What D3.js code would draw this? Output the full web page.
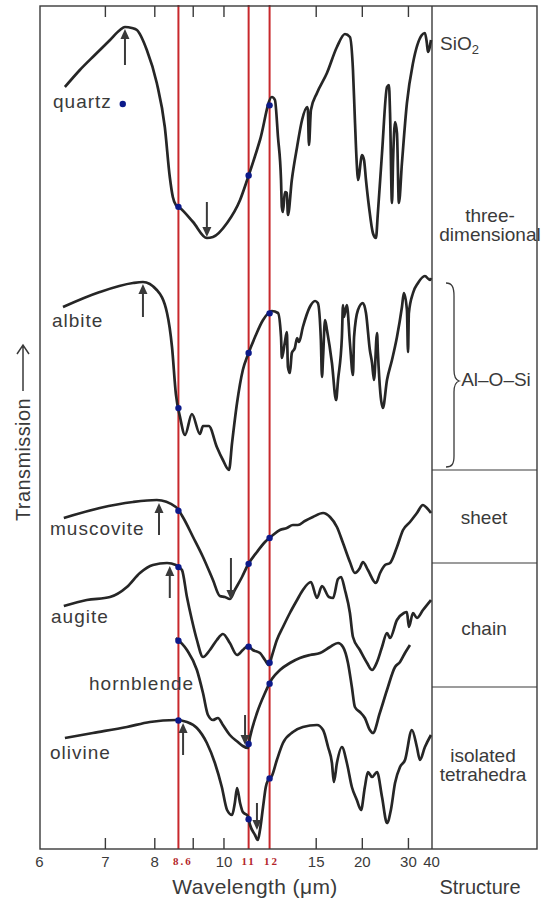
<!DOCTYPE html>
<html>
<head>
<meta charset="utf-8">
<script src="https://cdn.jsdelivr.net/npm/d3@7"></script>
<style>
body { margin: 0; background: #fff; }
svg { display: block; }
text { font-family: "Liberation Sans", Arial, sans-serif; fill: #3a3a3a; }
</style>
</head>
<body>
<script>
'use strict';

// IR spectra: [wavenumber (cm-1), transmission (stacked, arbitrary units)]
const quartz = [[1573,76.2],[1519,77.9],[1465,79.4],[1410,80.9],[1374,81.9],[1356,82.2],[1331,82.1],[1313,81.9],
  [1277,79.9],[1241,76.6],[1212,72.2],[1194,67.2],[1183,65.2],[1172,64.4],[1157,64.1],[1110,62.7],[1060,61.1],
  [1038,61.2],[987,62.6],[940,64.9],[912,67.1],[868,70.9],[825,75.2],[814,74.9],[803,71.2],[792,66.9],[789,64.2],
  [785,63.7],[778,65.7],[771,65.6],[767,63.4],[753,66.9],[734,70.2],[716,72.9],[698,74.2],[695,73.9],[691,70.4],
  [684,73.9],[662,75.6],[626,77.6],[590,80.2],[561,81.5],[543,81.2],[532,77.9],[525,72.9],[518,68.4],[514,66.9],
  [499,69.4],[492,68.9],[485,66.9],[474,64.2],[460,61.6],[449,61.1],[442,63.6],[427,69.6],[409,76.2],[402,76.4],
  [398,73.6],[391,64.6],[387,68.9],[380,72.7],[373,71.6],[366,64.6],[355,68.6],[337,74.6],[315,78.6],[283,81.4],
  [272,81.6],[265,80.6],[261,79.7],[250,80.9]];

const albite = [[1580,54.2],[1447,55.7],[1327,56.6],[1291,56.7],[1241,55.9],[1204,53.6],[1186,50.2],[1172,45.5],
  [1157,43.2],[1139,41.4],[1114,43.5],[1085,41.5],[1074,42.3],[1053,42.3],[1024,40.2],[1002,38.9],[980,37.9],
  [969,40.6],[951,44.6],[930,47.9],[912,49.4],[886,51.2],[857,52.9],[825,53.8],[803,53.6],[792,51.2],[789,49.1],
  [778,50.7],[771,51.7],[767,48.2],[760,47.6],[753,49.6],[742,50.1],[734,51.1],[727,50.7],[713,52.2],[688,54.2],
  [669,54.8],[659,54.6],[648,50.9],[644,47.2],[640,49.2],[633,52.9],[626,51.9],[608,48.6],[593,44.9],[586,46.9],
  [572,51.2],[568,54.4],[565,53.2],[554,54.4],[543,50.6],[532,47.4],[528,51.2],[514,53.9],[496,54.6],[485,53.6],
  [471,49.9],[463,48.6],[456,46.9],[445,51.6],[442,49.7],[424,44.1],[409,46.9],[391,48.9],[373,51.2],[355,54.2],
  [348,55.6],[337,53.9],[333,49.7],[330,53.6],[315,55.6],[297,56.6],[272,57.3],[254,56.9],[250,57.1]];

const muscovite = [[1577,33.1],[1447,34.1],[1327,34.7],[1241,34.9],[1172,34.2],[1147,33.2],[1110,31.2],[1074,29.2],
  [1038,26.9],[1013,25.3],[995,25.2],[977,25.0],[959,25.9],[933,27.2],[912,28.4],[879,29.7],[850,30.7],[825,31.3],
  [796,31.9],[771,32.1],[749,32.4],[731,32.4],[706,32.8],[677,33.2],[640,33.6],[615,33.2],[590,32.2],[568,30.6],
  [543,28.7],[525,27.6],[507,28.1],[496,28.7],[478,27.9],[449,26.6],[434,27.6],[416,28.4],[398,28.6],[373,30.2],
  [351,31.9],[326,32.7],[301,33.6],[279,34.4],[265,34.1],[250,33.6]];

const augite = [[1577,24.3],[1494,24.9],[1410,25.2],[1349,26.2],[1302,27.6],[1255,28.4],[1204,28.6],[1172,28.4],
  [1150,27.9],[1132,25.2],[1114,22.9],[1096,20.9],[1074,19.2],[1049,19.9],[1024,20.9],[1002,21.5],[977,20.6],
  [951,19.4],[930,19.9],[912,20.3],[894,19.9],[868,19.6],[850,18.9],[836,18.4],[825,19.3],[807,20.9],[785,22.2],
  [760,23.6],[734,24.9],[713,25.9],[684,26.7],[662,25.1],[644,26.3],[619,25.2],[604,25.1],[586,27.0],[575,27.2],
  [561,25.9],[543,23.6],[532,21.2],[507,19.9],[481,18.6],[463,17.9],[445,18.7],[427,20.2],[409,21.6],[398,21.1],
  [373,22.9],[348,23.6],[337,23.7],[330,22.2],[315,23.6],[301,23.1],[279,23.9],[250,24.9]];

const hornblende = [[1172,21.1],[1132,19.9],[1096,17.9],[1074,15.6],[1056,13.4],[1038,12.9],[1020,13.1],[1002,12.4],
  [977,11.4],[948,10.7],[930,10.3],[912,10.1],[904,11.2],[879,13.6],[850,15.6],[825,17.0],[796,17.9],[760,18.6],
  [724,19.1],[687,19.4],[651,19.6],[615,20.2],[586,20.6],[568,20.2],[550,18.6],[536,16.2],[525,14.2],[507,13.7],
  [489,13.1],[471,11.9],[460,11.6],[435,13.6],[409,15.9],[380,18.2],[362,18.7],[344,19.6],[326,20.4]];

const olivine = [[1573,11.1],[1472,11.6],[1349,12.2],[1266,12.7],[1172,12.9],[1132,12.7],[1096,12.1],[1060,10.6],
  [1031,8.6],[1006,6.2],[987,3.9],[969,3.4],[959,4.6],[951,6.1],[940,4.6],[930,3.7],[912,3.3],[904,2.4],[886,1.4],
  [876,0.9],[868,1.9],[857,4.2],[847,6.2],[839,6.9],[825,7.3],[807,8.9],[785,10.6],[749,11.7],[713,12.2],[662,12.4],
  [640,11.9],[622,10.2],[608,8.6],[601,6.7],[590,8.6],[572,10.2],[554,8.6],[536,6.2],[518,4.9],[503,3.9],[489,6.2],
  [478,7.7],[463,7.2],[445,7.7],[427,5.2],[409,2.6],[395,3.9],[380,6.6],[362,8.2],[344,8.9],[319,11.9],[301,10.2],
  [290,8.9],[272,10.2],[250,11.4]];

const spectra = [quartz, albite, muscovite, augite, hornblende, olivine];
const mineralNames = ['quartz', 'albite', 'muscovite', 'augite', 'hornblende', 'olivine'];

// band arrows: [wavenumber, from, to]
const arrows = [[1356,78.4,82.0],[1060,64.7,61.2],[1291,53.2,56.5],[1233,31.4,34.6],[973,29.1,24.9],
  [1194,25.1,28.3],[922,13.4,10.4],[1146,9.4,12.6],[879,4.6,1.9]];

// the lone dot beside the quartz label
const extraDots = [[1364,74.5]];

const tickWavelengths = [7, 8, 9, 10, 15, 20, 30];
const labelWavelengths = [6, 7, 8, 10, 15, 20, 30, 40];
const markerWavelengths = [8.6, 11, 12];
const markerLabels = ['8.6', '11', '12'];

const structureLabels = [['three-', 'dimensional'], ['Al\u2013O\u2013Si'], ['sheet'], ['chain'], ['isolated', 'tetrahedra']];

(function () {

const W = 550, H = 903;
const fLeft = 40, fRight = 432, fTop = 6, fBottom = 849, boxRight = 537;

// the axis is linear in wavenumber
const x = d3.scaleLinear().domain([10000 / 6, 250]).range([39, 431]);
const y = d3.scaleLinear().domain([0, 84.4]).range([849, 5]);
const wl = w => 10000 / w;

const svg = d3.select('body').append('svg')
    .attr('width', W)
    .attr('height', H);

// red marker lines
svg.selectAll('.marker')
    .data(markerWavelengths).enter()
  .append('line')
    .attr('x1', d => x(wl(d))).attr('x2', d => x(wl(d)))
    .attr('y1', fTop - 1).attr('y2', fBottom)
    .attr('stroke', '#c8282c')
    .attr('stroke-width', 2);

// frame
svg.append('rect')
    .attr('x', fLeft).attr('y', fTop)
    .attr('width', boxRight - fLeft).attr('height', fBottom - fTop)
    .attr('fill', 'none').attr('stroke', '#3a3a3a').attr('stroke-width', 1.4);
svg.append('line')
    .attr('x1', fRight).attr('x2', fRight).attr('y1', fTop).attr('y2', fBottom)
    .attr('stroke', '#3a3a3a').attr('stroke-width', 1.4);
[470, 563, 687].forEach(function (d) {
  svg.append('line')
      .attr('x1', fRight).attr('x2', boxRight).attr('y1', d).attr('y2', d)
      .attr('stroke', '#3a3a3a').attr('stroke-width', 1.2);
});

// ticks, inward on both edges
svg.append('g')
    .attr('transform', 'translate(0,' + fBottom + ')')
    .call(d3.axisBottom(x).tickValues(tickWavelengths.map(wl)).tickSize(-11).tickFormat(''))
    .call(g => g.select('.domain').remove())
    .call(g => g.selectAll('line').attr('stroke', '#3a3a3a').attr('stroke-width', 1.4));
svg.append('g')
    .attr('transform', 'translate(0,' + fTop + ')')
    .call(d3.axisTop(x).tickValues(tickWavelengths.map(wl)).tickSize(-11).tickFormat(''))
    .call(g => g.select('.domain').remove())
    .call(g => g.selectAll('line').attr('stroke', '#3a3a3a').attr('stroke-width', 1.4));

// tick labels
svg.append('g')
    .attr('transform', 'translate(0,' + fBottom + ')')
    .call(d3.axisBottom(x).tickValues(labelWavelengths.map(wl)).tickSize(0).tickPadding(7.5)
      .tickFormat(d => d3.format('d')(Math.round(wl(d)))))
    .call(g => g.select('.domain').remove())
    .call(g => g.selectAll('text')
      .attr('font-family', '"Liberation Sans", Arial, sans-serif')
      .attr('font-size', 15).attr('fill', '#3a3a3a'));

svg.selectAll('.markerLabel')
    .data(markerWavelengths).enter()
  .append('text')
    .attr('x', (d, i) => x(wl(d)) + [4.5, 0, 2][i])
    .attr('y', 865)
    .attr('text-anchor', 'middle')
    .style('font-family', '"Liberation Serif", "Times New Roman", serif')
    .style('font-weight', 'bold')
    .style('font-size', '11px')
    .style('letter-spacing', '2px')
    .style('fill', '#b3252a')
    .text((d, i) => markerLabels[i]);

svg.append('text')
    .attr('x', 255).attr('y', 894)
    .attr('text-anchor', 'middle')
    .style('font-size', '21px')
    .style('letter-spacing', '0.4px')
    .text('Wavelength (\u03bcm)');

svg.append('text')
    .attr('x', 480).attr('y', 894)
    .attr('text-anchor', 'middle')
    .style('font-size', '20px')
    .text('Structure');

// y label with its arrow
svg.append('text')
    .attr('transform', 'translate(30,521) rotate(-90)')
    .style('font-size', '20px')
    .style('letter-spacing', '0.4px')
    .text('Transmission');
svg.append('path')
    .attr('d', 'M23,391 L23,346 M17,354 L23,345 L29,354')
    .attr('fill', 'none').attr('stroke', '#3a3a3a').attr('stroke-width', 1.5);

// spectra
const line = d3.line()
    .x(d => x(d[0]))
    .y(d => y(d[1]))
    .curve(d3.curveMonotoneX);

svg.selectAll('.spectrum')
    .data(spectra).enter()
  .append('path')
    .attr('class', 'spectrum')
    .attr('d', line)
    .attr('fill', 'none')
    .attr('stroke', '#262626')
    .attr('stroke-width', 2.7)
    .attr('stroke-linejoin', 'round');

// arrows
arrows.forEach(function (a) {
  const ax = x(a[0]), y0 = y(a[1]), y1 = y(a[2]);
  const dir = y1 < y0 ? -1 : 1;
  svg.append('line')
      .attr('x1', ax).attr('x2', ax)
      .attr('y1', y0).attr('y2', y1 - dir * 7)
      .attr('stroke', '#3a3a3a').attr('stroke-width', 2);
  svg.append('path')
      .attr('d', 'M' + ax + ',' + y1 + 'L' + (ax - 4.5) + ',' + (y1 - dir * 10) +
                 'L' + (ax + 4.5) + ',' + (y1 - dir * 10) + 'Z')
      .attr('fill', '#3a3a3a');
});

// dots where the spectra cross the marker lines
function valueAt(series, wn) {
  for (let i = 0; i < series.length - 1; i++) {
    const a = series[i], b = series[i + 1];
    if (wn <= a[0] && wn >= b[0]) {
      return a[1] + (b[1] - a[1]) * (a[0] - wn) / (a[0] - b[0]);
    }
  }
  return null;
}

const dots = [];
spectra.forEach(function (s) {
  markerWavelengths.forEach(function (m) {
    const v = valueAt(s, wl(m));
    if (v !== null) dots.push([wl(m), v]);
  });
});
extraDots.forEach(d => dots.push(d));

svg.selectAll('.dot')
    .data(dots).enter()
  .append('circle')
    .attr('cx', d => x(d[0]))
    .attr('cy', d => y(d[1]))
    .attr('r', 3.2)
    .attr('fill', '#0c1a8a');

// mineral labels
const labelAt = [[53, 108], [52, 327], [50, 535], [51, 623], [89, 690], [50, 759]];
svg.selectAll('.mineral')
    .data(mineralNames).enter()
  .append('text')
    .attr('x', (d, i) => labelAt[i][0])
    .attr('y', (d, i) => labelAt[i][1])
    .style('font-size', '19px')
    .style('letter-spacing', '1px')
    .text(d => d);

// structure column
const sio = svg.append('text')
    .attr('x', 440).attr('y', 50)
    .style('font-size', '19px')
    .text('SiO');
sio.append('tspan')
    .attr('dy', 4).style('font-size', '13px')
    .text('2');

const structAt = [[490, 222], [496, 386], [484, 524], [484, 635], [483, 762]];
structureLabels.forEach(function (lines, i) {
  lines.forEach(function (t, j) {
    svg.append('text')
        .attr('x', structAt[i][0])
        .attr('y', structAt[i][1] + j * 19)
        .attr('text-anchor', 'middle')
        .style('font-size', '19px')
        .text(t);
  });
});

// brace for the Al-O-Si group
svg.append('path')
    .attr('d', 'M446,283 C452,283 454,287 454,296 L454,370 C454,377 456,380 459,381 ' +
               'C456,382 454,385 454,392 L454,456 C454,464 452,467 446,467')
    .attr('fill', 'none').attr('stroke', '#3a3a3a').attr('stroke-width', 1.3);

})();
</script>
</body>
</html>
